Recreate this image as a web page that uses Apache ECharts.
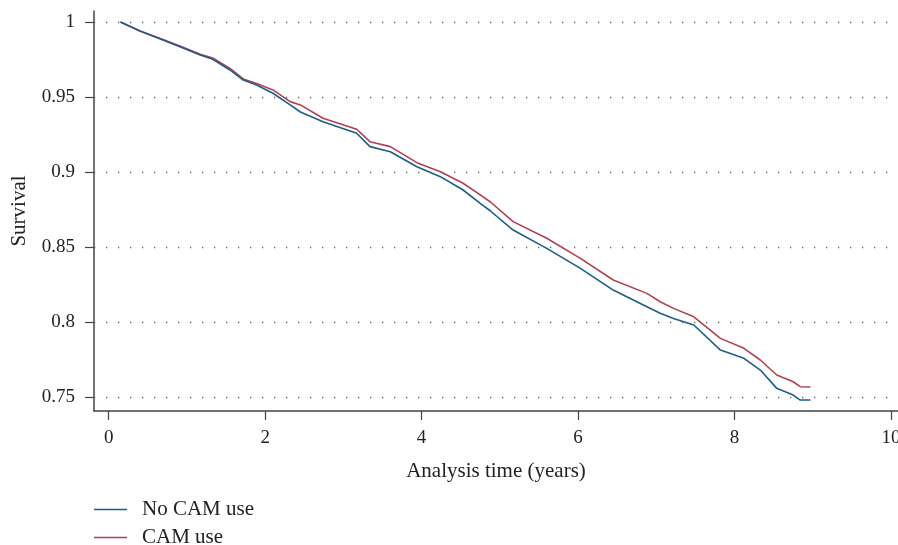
<!DOCTYPE html>
<html>
<head>
<meta charset="utf-8">
<script src="https://cdn.jsdelivr.net/npm/echarts@6/dist/echarts.min.js"></script>
<style>html,body{margin:0;padding:0;background:#fff}#c{width:898px;height:545px}</style>
</head>
<body>
<div id="c"></div>
<script>
var xTicks = [0, 2, 4, 6, 8, 10];
var yTicks = [0.75, 0.8, 0.85, 0.9, 0.95, 1];
var seriesNames = ['No CAM use', 'CAM use'];
var timeNoCam = [0.15,0.40,0.66,0.91,1.17,1.33,1.55,1.72,1.89,2.10,2.32,2.45,2.74,3.17,3.34,3.60,3.94,4.24,4.53,4.75,4.88,5.17,5.60,6.03,6.45,6.88,7.05,7.22,7.48,7.82,8.12,8.33,8.54,8.75,8.84,8.97];
var survNoCam = [1.0,0.994,0.9887,0.9835,0.978,0.9751,0.968,0.9613,0.958,0.9525,0.9447,0.940,0.9335,0.9258,0.9169,0.9135,0.9035,0.8969,0.888,0.8791,0.874,0.8613,0.8491,0.8358,0.8213,0.8102,0.8058,0.8024,0.798,0.7813,0.7758,0.768,0.7558,0.7513,0.748,0.748];
var timeCam = [0.15,0.40,0.66,0.91,1.17,1.33,1.55,1.72,1.89,2.10,2.32,2.45,2.74,3.17,3.34,3.60,3.94,4.24,4.53,4.75,4.88,5.17,5.60,6.03,6.45,6.88,7.05,7.22,7.48,7.82,8.12,8.33,8.54,8.75,8.84,8.97];
var survCam = [1.0,0.994,0.989,0.984,0.9785,0.976,0.969,0.962,0.959,0.9547,0.9469,0.9447,0.9358,0.9285,0.9202,0.9169,0.9062,0.9002,0.8925,0.8847,0.880,0.8669,0.8558,0.8424,0.828,0.8191,0.8135,0.8091,0.8035,0.7891,0.7825,0.7747,0.7647,0.7602,0.7569,0.7567];

function pairs(t, v) { return t.map(function (x, i) { return [x, v[i]]; }); }
var FONT = 'Liberation Serif';
var chart = echarts.init(document.getElementById('c'), null, {renderer: 'canvas'});
chart.setOption({
  animation: false,
  backgroundColor: '#fff',
  textStyle: {fontFamily: FONT},
  grid: {left: 94, top: 11, right: 0, bottom: 134, containLabel: false, outerBoundsMode: 'none'},
  legend: {
    left: 94, top: 499, width: 300, height: 60, padding: 0, orient: 'vertical',
    itemWidth: 33, itemHeight: 1.5, itemGap: 7, icon: 'rect',
    textStyle: {fontFamily: FONT, fontSize: 21, color: '#222', padding: [0, 0, 0, 10]},
    data: seriesNames
  },
  xAxis: {
    type: 'value', min: -0.188, max: 10.09,
    name: 'Analysis time (years)', nameLocation: 'middle', nameGap: 50,
    nameTextStyle: {fontFamily: FONT, fontSize: 21, color: '#222'},
    axisLine: {show: true, onZero: false, lineStyle: {color: '#444', width: 1.5}},
    axisTick: {show: true, length: 9, customValues: xTicks, lineStyle: {color: '#444', width: 1.2}},
    axisLabel: {customValues: xTicks, margin: 18, fontFamily: FONT, fontSize: 19, color: '#222'},
    splitLine: {show: false}
  },
  yAxis: {
    type: 'value', min: 0.7407, max: 1.0073,
    name: 'Survival', nameLocation: 'middle', nameGap: 64,
    nameTextStyle: {fontFamily: FONT, fontSize: 21, color: '#222'},
    axisLine: {show: true, onZero: false, lineStyle: {color: '#444', width: 1.5}},
    axisTick: {show: true, length: 9, customValues: yTicks, lineStyle: {color: '#444', width: 1.2}},
    axisLabel: {customValues: yTicks, margin: 19, fontFamily: FONT, fontSize: 19, color: '#222'},
    splitLine: {show: false}
  },
  series: [
    {
      name: seriesNames[0], type: 'line', data: pairs(timeNoCam, survNoCam),
      symbol: 'none', lineStyle: {color: '#1b5d8c', width: 1.6}, itemStyle: {color: '#1b5d8c'}, z: 3,
      markLine: {
        silent: true, symbol: 'none', label: {show: false},
        lineStyle: {color: '#666', width: 1.3, type: [1.3, 10.7]},
        data: yTicks.map(function (v) { return {yAxis: v}; })
      }
    },
    {
      name: seriesNames[1], type: 'line', data: pairs(timeCam, survCam),
      symbol: 'none', lineStyle: {color: '#b3404f', width: 1.6}, itemStyle: {color: '#b3404f'}, z: 2
    }
  ]
});
</script>
</body>
</html>
